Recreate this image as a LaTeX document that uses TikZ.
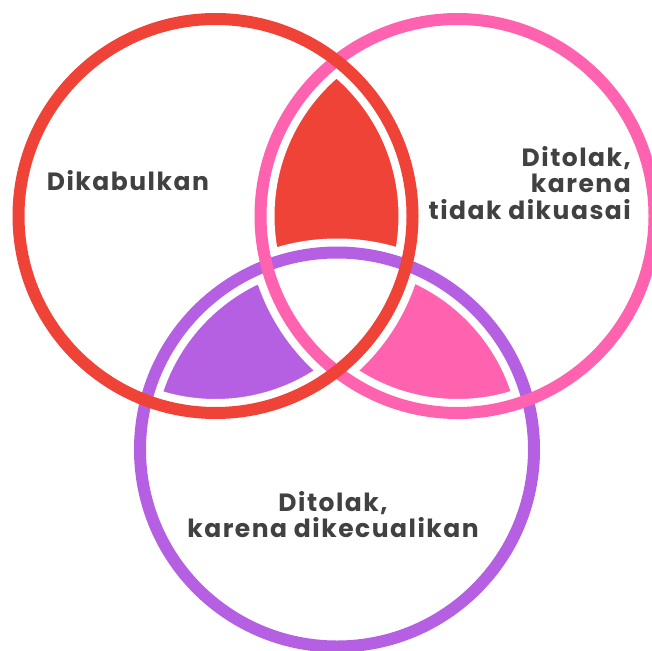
\documentclass[tikz,border=0pt]{standalone}
\usepackage{fontspec}
\setmainfont{Poppins}
\usepackage{tikz}
\usetikzlibrary{positioning}
\usepackage{xcolor}
\definecolor{vred}{HTML}{EF4338}
\definecolor{vpink}{HTML}{FF63B0}
\definecolor{vpurple}{HTML}{B560E3}
\definecolor{vtext}{HTML}{414141}

\begin{document}
\begin{tikzpicture}[
x=1pt,y=-1pt,
ring/.style={line width=12pt},
gap/.style={line width=28pt,white},
lbl/.style={text=vtext,font=\bfseries\fontsize{25}{26.5}\selectfont\addfontfeatures{LetterSpace=6},inner sep=0pt}
]
\useasboundingbox (0,0) rectangle (652,650);
\coordinate (cred) at (215.5,216);
\coordinate (cpink) at (457.5,216);
\coordinate (cpurple) at (337,449.5);
\def\rad{197pt}
% pairwise lenses
\begin{scope}
\clip (cred) circle (\rad);
\fill[vred] (cpink) circle (\rad);
\end{scope}
\begin{scope}
\clip (cred) circle (\rad);
\fill[vpurple] (cpurple) circle (\rad);
\end{scope}
\begin{scope}
\clip (cpink) circle (\rad);
\fill[vpink] (cpurple) circle (\rad);
\end{scope}
% middle stays white
\begin{scope}
\clip (cred) circle (\rad);
\clip (cpink) circle (\rad);
\fill[white] (cpurple) circle (\rad);
\end{scope}
% white gaps, then rings
\draw[gap] (cred) circle (\rad);
\draw[gap] (cpink) circle (\rad);
\draw[gap] (cpurple) circle (\rad);
\draw[ring,vpurple] (cpurple) circle (\rad);
\draw[ring,vpink] (cpink) circle (\rad);
\draw[ring,vred] (cred) circle (\rad);

\node[lbl,anchor=base west] (granted) at (46.7,190) {Dikabulkan};
\node[lbl,anchor=north east,align=right] (notcontrolled) at (631,146) {Ditolak,\\karena\\tidak dikuasai};
\node[lbl,anchor=north,align=center] (excluded) at (333,491) {Ditolak,\\karena dikecualikan};
\end{tikzpicture}
\end{document}
